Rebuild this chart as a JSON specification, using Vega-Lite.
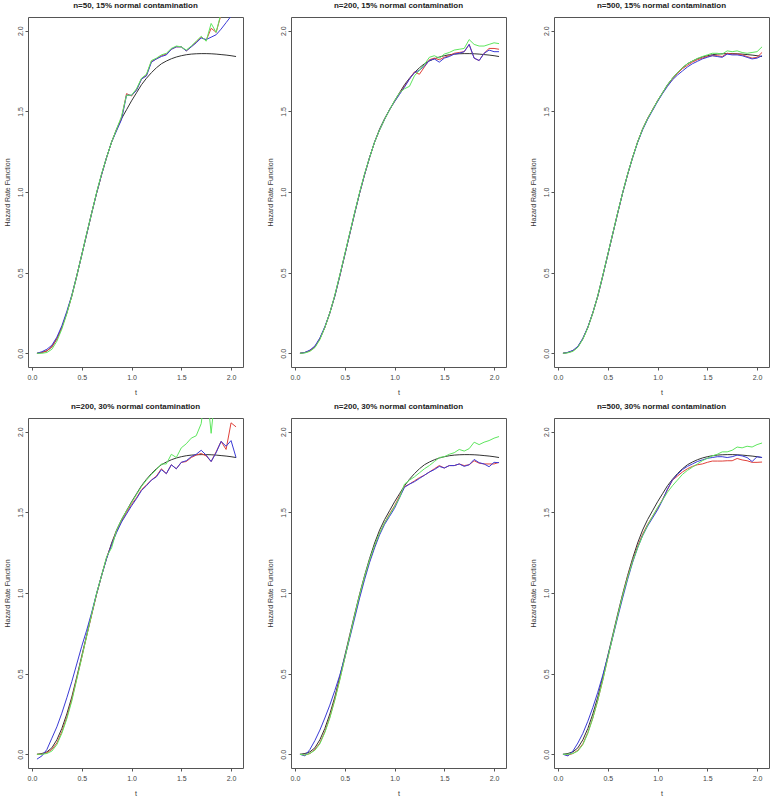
{
"$schema": "https://vega.github.io/schema/vega-lite/v6.json",
"padding": {"left": 2, "top": 1, "right": 0, "bottom": 0},
"background": "white",
"columns": 3,
"spacing": {"row": 51, "column": 48},
"bounds": "flush",
"data": {"values": [
{"p":1,"t":0.05,"k":0,"r":0,"b":0,"g":0},
{"p":1,"t":0.10,"k":0.005,"r":0.005,"b":0.01,"g":0},
{"p":1,"t":0.15,"k":0.015,"r":0.015,"b":0.025,"g":0.005},
{"p":1,"t":0.20,"k":0.04,"r":0.04,"b":0.05,"g":0.025},
{"p":1,"t":0.25,"k":0.09,"r":0.09,"b":0.1,"g":0.075},
{"p":1,"t":0.30,"k":0.16,"r":0.16,"b":0.17,"g":0.15},
{"p":1,"t":0.35,"k":0.25,"r":0.25,"b":0.26,"g":0.245},
{"p":1,"t":0.40,"k":0.355,"r":0.355,"b":0.36,"g":0.355},
{"p":1,"t":0.45,"k":0.48,"r":0.48,"b":0.48,"g":0.48},
{"p":1,"t":0.50,"k":0.61,"r":0.61,"b":0.61,"g":0.61},
{"p":1,"t":0.55,"k":0.74,"r":0.74,"b":0.74,"g":0.745},
{"p":1,"t":0.60,"k":0.87,"r":0.87,"b":0.87,"g":0.87},
{"p":1,"t":0.65,"k":0.995,"r":0.995,"b":0.995,"g":1.0},
{"p":1,"t":0.70,"k":1.11,"r":1.11,"b":1.11,"g":1.115},
{"p":1,"t":0.75,"k":1.215,"r":1.215,"b":1.215,"g":1.215},
{"p":1,"t":0.80,"k":1.31,"r":1.31,"b":1.31,"g":1.31},
{"p":1,"t":0.85,"k":1.39,"r":1.385,"b":1.38,"g":1.39},
{"p":1,"t":0.90,"k":1.455,"r":1.46,"b":1.45,"g":1.47},
{"p":1,"t":0.95,"k":1.51,"r":1.61,"b":1.6,"g":1.6},
{"p":1,"t":1.00,"k":1.565,"r":1.595,"b":1.6,"g":1.6},
{"p":1,"t":1.05,"k":1.615,"r":1.635,"b":1.63,"g":1.64},
{"p":1,"t":1.10,"k":1.665,"r":1.7,"b":1.7,"g":1.705},
{"p":1,"t":1.15,"k":1.705,"r":1.725,"b":1.72,"g":1.73},
{"p":1,"t":1.20,"k":1.74,"r":1.81,"b":1.805,"g":1.815},
{"p":1,"t":1.25,"k":1.77,"r":1.825,"b":1.825,"g":1.83},
{"p":1,"t":1.30,"k":1.795,"r":1.845,"b":1.84,"g":1.85},
{"p":1,"t":1.35,"k":1.812,"r":1.855,"b":1.85,"g":1.86},
{"p":1,"t":1.40,"k":1.826,"r":1.885,"b":1.885,"g":1.89},
{"p":1,"t":1.45,"k":1.837,"r":1.9,"b":1.9,"g":1.905},
{"p":1,"t":1.50,"k":1.845,"r":1.9,"b":1.9,"g":1.9},
{"p":1,"t":1.55,"k":1.851,"r":1.875,"b":1.875,"g":1.88},
{"p":1,"t":1.60,"k":1.855,"r":1.9,"b":1.9,"g":1.905},
{"p":1,"t":1.65,"k":1.857,"r":1.93,"b":1.925,"g":1.935},
{"p":1,"t":1.70,"k":1.858,"r":1.96,"b":1.955,"g":1.965},
{"p":1,"t":1.75,"k":1.858,"r":1.94,"b":1.945,"g":1.935},
{"p":1,"t":1.80,"k":1.857,"r":2.015,"b":1.96,"g":2.045},
{"p":1,"t":1.85,"k":1.855,"r":1.99,"b":1.975,"g":1.99},
{"p":1,"t":1.90,"k":1.852,"r":2.1,"b":2.01,"g":2.11},
{"p":1,"t":1.95,"k":1.849,"r":2.22,"b":2.05,"g":2.25},
{"p":1,"t":2.00,"k":1.845,"r":2.32,"b":2.09,"g":2.36},
{"p":1,"t":2.05,"k":1.84,"r":2.42,"b":2.13,"g":2.46},
{"p":2,"t":0.05,"k":0,"r":0,"b":0,"g":0},
{"p":2,"t":0.10,"k":0.005,"r":0.005,"b":0.005,"g":0.002},
{"p":2,"t":0.15,"k":0.015,"r":0.015,"b":0.02,"g":0.012},
{"p":2,"t":0.20,"k":0.04,"r":0.04,"b":0.045,"g":0.035},
{"p":2,"t":0.25,"k":0.09,"r":0.09,"b":0.095,"g":0.085},
{"p":2,"t":0.30,"k":0.16,"r":0.16,"b":0.165,"g":0.16},
{"p":2,"t":0.35,"k":0.25,"r":0.25,"b":0.25,"g":0.25},
{"p":2,"t":0.40,"k":0.355,"r":0.355,"b":0.355,"g":0.36},
{"p":2,"t":0.45,"k":0.48,"r":0.48,"b":0.48,"g":0.485},
{"p":2,"t":0.50,"k":0.61,"r":0.61,"b":0.61,"g":0.615},
{"p":2,"t":0.55,"k":0.74,"r":0.74,"b":0.74,"g":0.745},
{"p":2,"t":0.60,"k":0.87,"r":0.87,"b":0.87,"g":0.875},
{"p":2,"t":0.65,"k":0.995,"r":0.995,"b":0.995,"g":1.0},
{"p":2,"t":0.70,"k":1.11,"r":1.11,"b":1.11,"g":1.115},
{"p":2,"t":0.75,"k":1.215,"r":1.215,"b":1.215,"g":1.215},
{"p":2,"t":0.80,"k":1.31,"r":1.31,"b":1.31,"g":1.31},
{"p":2,"t":0.85,"k":1.39,"r":1.385,"b":1.385,"g":1.385},
{"p":2,"t":0.90,"k":1.455,"r":1.45,"b":1.45,"g":1.45},
{"p":2,"t":0.95,"k":1.51,"r":1.51,"b":1.51,"g":1.51},
{"p":2,"t":1.00,"k":1.565,"r":1.56,"b":1.56,"g":1.565},
{"p":2,"t":1.05,"k":1.615,"r":1.61,"b":1.605,"g":1.615},
{"p":2,"t":1.10,"k":1.665,"r":1.655,"b":1.65,"g":1.64},
{"p":2,"t":1.15,"k":1.705,"r":1.7,"b":1.7,"g":1.655},
{"p":2,"t":1.20,"k":1.74,"r":1.745,"b":1.74,"g":1.72},
{"p":2,"t":1.25,"k":1.77,"r":1.73,"b":1.755,"g":1.755},
{"p":2,"t":1.30,"k":1.795,"r":1.775,"b":1.78,"g":1.79},
{"p":2,"t":1.35,"k":1.812,"r":1.82,"b":1.815,"g":1.835},
{"p":2,"t":1.40,"k":1.826,"r":1.83,"b":1.825,"g":1.845},
{"p":2,"t":1.45,"k":1.837,"r":1.82,"b":1.805,"g":1.83},
{"p":2,"t":1.50,"k":1.845,"r":1.835,"b":1.83,"g":1.855},
{"p":2,"t":1.55,"k":1.851,"r":1.845,"b":1.84,"g":1.865},
{"p":2,"t":1.60,"k":1.855,"r":1.86,"b":1.855,"g":1.88},
{"p":2,"t":1.65,"k":1.857,"r":1.865,"b":1.86,"g":1.885},
{"p":2,"t":1.70,"k":1.858,"r":1.87,"b":1.87,"g":1.89},
{"p":2,"t":1.75,"k":1.858,"r":1.915,"b":1.915,"g":1.945},
{"p":2,"t":1.80,"k":1.857,"r":1.83,"b":1.83,"g":1.915},
{"p":2,"t":1.85,"k":1.855,"r":1.815,"b":1.815,"g":1.905},
{"p":2,"t":1.90,"k":1.852,"r":1.86,"b":1.86,"g":1.905},
{"p":2,"t":1.95,"k":1.849,"r":1.89,"b":1.88,"g":1.915},
{"p":2,"t":2.00,"k":1.845,"r":1.89,"b":1.87,"g":1.925},
{"p":2,"t":2.05,"k":1.84,"r":1.885,"b":1.87,"g":1.92},
{"p":3,"t":0.05,"k":0,"r":0,"b":0,"g":0},
{"p":3,"t":0.10,"k":0.005,"r":0.005,"b":0.006,"g":0.003},
{"p":3,"t":0.15,"k":0.015,"r":0.015,"b":0.018,"g":0.012},
{"p":3,"t":0.20,"k":0.04,"r":0.04,"b":0.043,"g":0.037},
{"p":3,"t":0.25,"k":0.09,"r":0.09,"b":0.093,"g":0.087},
{"p":3,"t":0.30,"k":0.16,"r":0.16,"b":0.162,"g":0.158},
{"p":3,"t":0.35,"k":0.25,"r":0.25,"b":0.252,"g":0.25},
{"p":3,"t":0.40,"k":0.355,"r":0.355,"b":0.355,"g":0.356},
{"p":3,"t":0.45,"k":0.48,"r":0.48,"b":0.48,"g":0.482},
{"p":3,"t":0.50,"k":0.61,"r":0.61,"b":0.61,"g":0.612},
{"p":3,"t":0.55,"k":0.74,"r":0.74,"b":0.74,"g":0.742},
{"p":3,"t":0.60,"k":0.87,"r":0.87,"b":0.87,"g":0.872},
{"p":3,"t":0.65,"k":0.995,"r":0.995,"b":0.995,"g":0.997},
{"p":3,"t":0.70,"k":1.11,"r":1.11,"b":1.11,"g":1.112},
{"p":3,"t":0.75,"k":1.215,"r":1.215,"b":1.213,"g":1.215},
{"p":3,"t":0.80,"k":1.31,"r":1.31,"b":1.307,"g":1.31},
{"p":3,"t":0.85,"k":1.39,"r":1.39,"b":1.385,"g":1.39},
{"p":3,"t":0.90,"k":1.455,"r":1.455,"b":1.45,"g":1.455},
{"p":3,"t":0.95,"k":1.51,"r":1.51,"b":1.505,"g":1.51},
{"p":3,"t":1.00,"k":1.565,"r":1.565,"b":1.56,"g":1.565},
{"p":3,"t":1.05,"k":1.615,"r":1.613,"b":1.61,"g":1.615},
{"p":3,"t":1.10,"k":1.665,"r":1.66,"b":1.655,"g":1.665},
{"p":3,"t":1.15,"k":1.705,"r":1.7,"b":1.695,"g":1.705},
{"p":3,"t":1.20,"k":1.74,"r":1.735,"b":1.725,"g":1.74},
{"p":3,"t":1.25,"k":1.77,"r":1.765,"b":1.75,"g":1.77},
{"p":3,"t":1.30,"k":1.795,"r":1.785,"b":1.775,"g":1.795},
{"p":3,"t":1.35,"k":1.812,"r":1.805,"b":1.795,"g":1.812},
{"p":3,"t":1.40,"k":1.826,"r":1.82,"b":1.81,"g":1.828},
{"p":3,"t":1.45,"k":1.837,"r":1.83,"b":1.825,"g":1.84},
{"p":3,"t":1.50,"k":1.845,"r":1.84,"b":1.835,"g":1.85},
{"p":3,"t":1.55,"k":1.851,"r":1.845,"b":1.845,"g":1.86},
{"p":3,"t":1.60,"k":1.855,"r":1.845,"b":1.84,"g":1.86},
{"p":3,"t":1.65,"k":1.857,"r":1.84,"b":1.835,"g":1.855},
{"p":3,"t":1.70,"k":1.858,"r":1.86,"b":1.855,"g":1.875},
{"p":3,"t":1.75,"k":1.858,"r":1.855,"b":1.85,"g":1.87},
{"p":3,"t":1.80,"k":1.857,"r":1.855,"b":1.85,"g":1.875},
{"p":3,"t":1.85,"k":1.855,"r":1.85,"b":1.845,"g":1.865},
{"p":3,"t":1.90,"k":1.852,"r":1.84,"b":1.835,"g":1.86},
{"p":3,"t":1.95,"k":1.849,"r":1.83,"b":1.825,"g":1.865},
{"p":3,"t":2.00,"k":1.845,"r":1.835,"b":1.83,"g":1.87},
{"p":3,"t":2.05,"k":1.84,"r":1.865,"b":1.845,"g":1.9},
{"p":4,"t":0.05,"k":0,"r":0,"b":-0.03,"g":0},
{"p":4,"t":0.10,"k":0.005,"r":0,"b":-0.01,"g":0},
{"p":4,"t":0.15,"k":0.015,"r":0.01,"b":0.03,"g":0.005},
{"p":4,"t":0.20,"k":0.04,"r":0.03,"b":0.1,"g":0.02},
{"p":4,"t":0.25,"k":0.09,"r":0.07,"b":0.17,"g":0.06},
{"p":4,"t":0.30,"k":0.16,"r":0.14,"b":0.255,"g":0.13},
{"p":4,"t":0.35,"k":0.25,"r":0.23,"b":0.35,"g":0.22},
{"p":4,"t":0.40,"k":0.355,"r":0.34,"b":0.45,"g":0.33},
{"p":4,"t":0.45,"k":0.48,"r":0.47,"b":0.56,"g":0.465},
{"p":4,"t":0.50,"k":0.61,"r":0.6,"b":0.67,"g":0.6},
{"p":4,"t":0.55,"k":0.74,"r":0.735,"b":0.77,"g":0.735},
{"p":4,"t":0.60,"k":0.87,"r":0.865,"b":0.88,"g":0.87},
{"p":4,"t":0.65,"k":0.995,"r":0.995,"b":1.0,"g":1.0},
{"p":4,"t":0.70,"k":1.11,"r":1.11,"b":1.11,"g":1.11},
{"p":4,"t":0.75,"k":1.215,"r":1.22,"b":1.215,"g":1.225},
{"p":4,"t":0.80,"k":1.31,"r":1.3,"b":1.3,"g":1.28},
{"p":4,"t":0.85,"k":1.39,"r":1.385,"b":1.375,"g":1.39},
{"p":4,"t":0.90,"k":1.455,"r":1.445,"b":1.44,"g":1.455},
{"p":4,"t":0.95,"k":1.51,"r":1.5,"b":1.49,"g":1.51},
{"p":4,"t":1.00,"k":1.565,"r":1.55,"b":1.54,"g":1.56},
{"p":4,"t":1.05,"k":1.615,"r":1.59,"b":1.585,"g":1.61},
{"p":4,"t":1.10,"k":1.665,"r":1.64,"b":1.635,"g":1.66},
{"p":4,"t":1.15,"k":1.705,"r":1.67,"b":1.665,"g":1.7},
{"p":4,"t":1.20,"k":1.74,"r":1.7,"b":1.7,"g":1.735},
{"p":4,"t":1.25,"k":1.77,"r":1.725,"b":1.72,"g":1.765},
{"p":4,"t":1.30,"k":1.795,"r":1.77,"b":1.765,"g":1.8},
{"p":4,"t":1.35,"k":1.812,"r":1.74,"b":1.74,"g":1.8},
{"p":4,"t":1.40,"k":1.826,"r":1.795,"b":1.795,"g":1.86},
{"p":4,"t":1.45,"k":1.837,"r":1.77,"b":1.77,"g":1.84},
{"p":4,"t":1.50,"k":1.845,"r":1.81,"b":1.81,"g":1.9},
{"p":4,"t":1.55,"k":1.851,"r":1.815,"b":1.82,"g":1.925},
{"p":4,"t":1.60,"k":1.855,"r":1.84,"b":1.845,"g":1.96},
{"p":4,"t":1.65,"k":1.857,"r":1.855,"b":1.86,"g":1.975},
{"p":4,"t":1.70,"k":1.858,"r":1.865,"b":1.885,"g":2.05},
{"p":4,"t":1.75,"k":1.858,"r":1.85,"b":1.855,"g":2.3},
{"p":4,"t":1.80,"k":1.857,"r":1.815,"b":1.815,"g":1.99},
{"p":4,"t":1.85,"k":1.855,"r":1.875,"b":1.87,"g":2.3},
{"p":4,"t":1.90,"k":1.852,"r":1.94,"b":1.94,"g":2.5},
{"p":4,"t":1.95,"k":1.849,"r":1.89,"b":1.91,"g":2.6},
{"p":4,"t":2.00,"k":1.845,"r":2.055,"b":1.945,"g":2.7},
{"p":4,"t":2.05,"k":1.84,"r":2.03,"b":1.84,"g":2.8},
{"p":5,"t":0.05,"k":0,"r":0,"b":0,"g":0},
{"p":5,"t":0.10,"k":0.005,"r":-0.005,"b":-0.01,"g":-0.005},
{"p":5,"t":0.15,"k":0.015,"r":0.005,"b":0.03,"g":0.005},
{"p":5,"t":0.20,"k":0.04,"r":0.03,"b":0.085,"g":0.025},
{"p":5,"t":0.25,"k":0.09,"r":0.07,"b":0.15,"g":0.065},
{"p":5,"t":0.30,"k":0.16,"r":0.14,"b":0.225,"g":0.135},
{"p":5,"t":0.35,"k":0.25,"r":0.23,"b":0.305,"g":0.225},
{"p":5,"t":0.40,"k":0.355,"r":0.34,"b":0.395,"g":0.335},
{"p":5,"t":0.45,"k":0.48,"r":0.465,"b":0.49,"g":0.46},
{"p":5,"t":0.50,"k":0.61,"r":0.595,"b":0.6,"g":0.595},
{"p":5,"t":0.55,"k":0.74,"r":0.73,"b":0.72,"g":0.73},
{"p":5,"t":0.60,"k":0.87,"r":0.86,"b":0.845,"g":0.865},
{"p":5,"t":0.65,"k":0.995,"r":0.985,"b":0.97,"g":0.99},
{"p":5,"t":0.70,"k":1.11,"r":1.1,"b":1.085,"g":1.105},
{"p":5,"t":0.75,"k":1.215,"r":1.2,"b":1.19,"g":1.205},
{"p":5,"t":0.80,"k":1.31,"r":1.29,"b":1.28,"g":1.295},
{"p":5,"t":0.85,"k":1.39,"r":1.37,"b":1.36,"g":1.37},
{"p":5,"t":0.90,"k":1.455,"r":1.435,"b":1.425,"g":1.435},
{"p":5,"t":0.95,"k":1.51,"r":1.49,"b":1.475,"g":1.485},
{"p":5,"t":1.00,"k":1.565,"r":1.54,"b":1.525,"g":1.535},
{"p":5,"t":1.05,"k":1.615,"r":1.6,"b":1.59,"g":1.59},
{"p":5,"t":1.10,"k":1.665,"r":1.66,"b":1.655,"g":1.675},
{"p":5,"t":1.15,"k":1.705,"r":1.675,"b":1.675,"g":1.7},
{"p":5,"t":1.20,"k":1.74,"r":1.695,"b":1.69,"g":1.72},
{"p":5,"t":1.25,"k":1.77,"r":1.715,"b":1.71,"g":1.745},
{"p":5,"t":1.30,"k":1.795,"r":1.73,"b":1.73,"g":1.77},
{"p":5,"t":1.35,"k":1.812,"r":1.75,"b":1.75,"g":1.79},
{"p":5,"t":1.40,"k":1.826,"r":1.77,"b":1.765,"g":1.815},
{"p":5,"t":1.45,"k":1.837,"r":1.79,"b":1.785,"g":1.84},
{"p":5,"t":1.50,"k":1.845,"r":1.775,"b":1.775,"g":1.845},
{"p":5,"t":1.55,"k":1.851,"r":1.79,"b":1.79,"g":1.86},
{"p":5,"t":1.60,"k":1.855,"r":1.79,"b":1.79,"g":1.87},
{"p":5,"t":1.65,"k":1.857,"r":1.8,"b":1.8,"g":1.89},
{"p":5,"t":1.70,"k":1.858,"r":1.79,"b":1.785,"g":1.88},
{"p":5,"t":1.75,"k":1.858,"r":1.795,"b":1.795,"g":1.895},
{"p":5,"t":1.80,"k":1.857,"r":1.82,"b":1.828,"g":1.935},
{"p":5,"t":1.85,"k":1.855,"r":1.805,"b":1.808,"g":1.92},
{"p":5,"t":1.90,"k":1.852,"r":1.8,"b":1.8,"g":1.935},
{"p":5,"t":1.95,"k":1.849,"r":1.8,"b":1.783,"g":1.945},
{"p":5,"t":2.00,"k":1.845,"r":1.8,"b":1.81,"g":1.96},
{"p":5,"t":2.05,"k":1.84,"r":1.81,"b":1.808,"g":1.97},
{"p":6,"t":0.05,"k":0,"r":0,"b":0,"g":0},
{"p":6,"t":0.10,"k":0.005,"r":-0.005,"b":-0.01,"g":0},
{"p":6,"t":0.15,"k":0.015,"r":0.005,"b":0.02,"g":0.005},
{"p":6,"t":0.20,"k":0.04,"r":0.025,"b":0.07,"g":0.02},
{"p":6,"t":0.25,"k":0.09,"r":0.065,"b":0.13,"g":0.06},
{"p":6,"t":0.30,"k":0.16,"r":0.135,"b":0.205,"g":0.13},
{"p":6,"t":0.35,"k":0.25,"r":0.225,"b":0.29,"g":0.225},
{"p":6,"t":0.40,"k":0.355,"r":0.335,"b":0.385,"g":0.335},
{"p":6,"t":0.45,"k":0.48,"r":0.46,"b":0.49,"g":0.46},
{"p":6,"t":0.50,"k":0.61,"r":0.595,"b":0.605,"g":0.595},
{"p":6,"t":0.55,"k":0.74,"r":0.73,"b":0.725,"g":0.73},
{"p":6,"t":0.60,"k":0.87,"r":0.86,"b":0.85,"g":0.86},
{"p":6,"t":0.65,"k":0.995,"r":0.985,"b":0.97,"g":0.985},
{"p":6,"t":0.70,"k":1.11,"r":1.1,"b":1.085,"g":1.095},
{"p":6,"t":0.75,"k":1.215,"r":1.2,"b":1.19,"g":1.195},
{"p":6,"t":0.80,"k":1.31,"r":1.29,"b":1.28,"g":1.28},
{"p":6,"t":0.85,"k":1.39,"r":1.365,"b":1.355,"g":1.355},
{"p":6,"t":0.90,"k":1.455,"r":1.425,"b":1.415,"g":1.42},
{"p":6,"t":0.95,"k":1.51,"r":1.475,"b":1.465,"g":1.475},
{"p":6,"t":1.00,"k":1.565,"r":1.525,"b":1.515,"g":1.53},
{"p":6,"t":1.05,"k":1.615,"r":1.58,"b":1.575,"g":1.575},
{"p":6,"t":1.10,"k":1.665,"r":1.64,"b":1.645,"g":1.625},
{"p":6,"t":1.15,"k":1.705,"r":1.7,"b":1.7,"g":1.665},
{"p":6,"t":1.20,"k":1.74,"r":1.725,"b":1.735,"g":1.7},
{"p":6,"t":1.25,"k":1.77,"r":1.75,"b":1.765,"g":1.735},
{"p":6,"t":1.30,"k":1.795,"r":1.77,"b":1.785,"g":1.76},
{"p":6,"t":1.35,"k":1.812,"r":1.785,"b":1.8,"g":1.78},
{"p":6,"t":1.40,"k":1.826,"r":1.795,"b":1.815,"g":1.8},
{"p":6,"t":1.45,"k":1.837,"r":1.8,"b":1.825,"g":1.82},
{"p":6,"t":1.50,"k":1.845,"r":1.81,"b":1.835,"g":1.835},
{"p":6,"t":1.55,"k":1.851,"r":1.818,"b":1.84,"g":1.85},
{"p":6,"t":1.60,"k":1.855,"r":1.818,"b":1.845,"g":1.86},
{"p":6,"t":1.65,"k":1.857,"r":1.818,"b":1.845,"g":1.875},
{"p":6,"t":1.70,"k":1.858,"r":1.82,"b":1.84,"g":1.875},
{"p":6,"t":1.75,"k":1.858,"r":1.82,"b":1.845,"g":1.885},
{"p":6,"t":1.80,"k":1.857,"r":1.834,"b":1.855,"g":1.905},
{"p":6,"t":1.85,"k":1.855,"r":1.825,"b":1.85,"g":1.9},
{"p":6,"t":1.90,"k":1.852,"r":1.82,"b":1.84,"g":1.91},
{"p":6,"t":1.95,"k":1.849,"r":1.81,"b":1.815,"g":1.905},
{"p":6,"t":2.00,"k":1.845,"r":1.81,"b":1.845,"g":1.92},
{"p":6,"t":2.05,"k":1.84,"r":1.812,"b":1.84,"g":1.93}
]},
"concat": [
{"title":"n=50, 15% normal contamination","width":215,"height":350,
 "transform":[{"filter":"datum.p==1"},{"fold":["k","r","b","g"],"as":["s","v"]}],
 "mark":{"type":"line","clip":true,"strokeWidth":1},
 "encoding":{"x":{"field":"t","type":"quantitative","scale":{"domain":[-0.04,2.12],"nice":false},"axis":{"title":"t","values":[0,0.5,1,1.5,2],"format":".1f"}},
  "y":{"field":"v","type":"quantitative","scale":{"domain":[-0.085,2.085],"nice":false,"zero":false},"axis":{"title":"Hazard Rate Function","values":[0,0.5,1,1.5,2],"format":".1f"}},
  "color":{"field":"s","type":"nominal","scale":{"domain":["k","r","b","g"],"range":["#333333","#e0413a","#3a3ad6","#5ee65e"]},"legend":null}}},
{"title":"n=200, 15% normal contamination","width":215,"height":350,
 "transform":[{"filter":"datum.p==2"},{"fold":["k","r","b","g"],"as":["s","v"]}],
 "mark":{"type":"line","clip":true,"strokeWidth":1},
 "encoding":{"x":{"field":"t","type":"quantitative","scale":{"domain":[-0.04,2.12],"nice":false},"axis":{"title":"t","values":[0,0.5,1,1.5,2],"format":".1f"}},
  "y":{"field":"v","type":"quantitative","scale":{"domain":[-0.085,2.085],"nice":false,"zero":false},"axis":{"title":"Hazard Rate Function","values":[0,0.5,1,1.5,2],"format":".1f"}},
  "color":{"field":"s","type":"nominal","scale":{"domain":["k","r","b","g"],"range":["#333333","#e0413a","#3a3ad6","#5ee65e"]},"legend":null}}},
{"title":"n=500, 15% normal contamination","width":215,"height":350,
 "transform":[{"filter":"datum.p==3"},{"fold":["k","r","b","g"],"as":["s","v"]}],
 "mark":{"type":"line","clip":true,"strokeWidth":1},
 "encoding":{"x":{"field":"t","type":"quantitative","scale":{"domain":[-0.04,2.12],"nice":false},"axis":{"title":"t","values":[0,0.5,1,1.5,2],"format":".1f"}},
  "y":{"field":"v","type":"quantitative","scale":{"domain":[-0.085,2.085],"nice":false,"zero":false},"axis":{"title":"Hazard Rate Function","values":[0,0.5,1,1.5,2],"format":".1f"}},
  "color":{"field":"s","type":"nominal","scale":{"domain":["k","r","b","g"],"range":["#333333","#e0413a","#3a3ad6","#5ee65e"]},"legend":null}}},
{"title":"n=200, 30% normal contamination","width":215,"height":350,
 "transform":[{"filter":"datum.p==4"},{"fold":["k","r","b","g"],"as":["s","v"]}],
 "mark":{"type":"line","clip":true,"strokeWidth":1},
 "encoding":{"x":{"field":"t","type":"quantitative","scale":{"domain":[-0.04,2.12],"nice":false},"axis":{"title":"t","values":[0,0.5,1,1.5,2],"format":".1f"}},
  "y":{"field":"v","type":"quantitative","scale":{"domain":[-0.085,2.085],"nice":false,"zero":false},"axis":{"title":"Hazard Rate Function","values":[0,0.5,1,1.5,2],"format":".1f"}},
  "color":{"field":"s","type":"nominal","scale":{"domain":["k","r","b","g"],"range":["#333333","#e0413a","#3a3ad6","#5ee65e"]},"legend":null}}},
{"title":"n=200, 30% normal contamination","width":215,"height":350,
 "transform":[{"filter":"datum.p==5"},{"fold":["k","r","b","g"],"as":["s","v"]}],
 "mark":{"type":"line","clip":true,"strokeWidth":1},
 "encoding":{"x":{"field":"t","type":"quantitative","scale":{"domain":[-0.04,2.12],"nice":false},"axis":{"title":"t","values":[0,0.5,1,1.5,2],"format":".1f"}},
  "y":{"field":"v","type":"quantitative","scale":{"domain":[-0.085,2.085],"nice":false,"zero":false},"axis":{"title":"Hazard Rate Function","values":[0,0.5,1,1.5,2],"format":".1f"}},
  "color":{"field":"s","type":"nominal","scale":{"domain":["k","r","b","g"],"range":["#333333","#e0413a","#3a3ad6","#5ee65e"]},"legend":null}}},
{"title":"n=500, 30% normal contamination","width":215,"height":350,
 "transform":[{"filter":"datum.p==6"},{"fold":["k","r","b","g"],"as":["s","v"]}],
 "mark":{"type":"line","clip":true,"strokeWidth":1},
 "encoding":{"x":{"field":"t","type":"quantitative","scale":{"domain":[-0.04,2.12],"nice":false},"axis":{"title":"t","values":[0,0.5,1,1.5,2],"format":".1f"}},
  "y":{"field":"v","type":"quantitative","scale":{"domain":[-0.085,2.085],"nice":false,"zero":false},"axis":{"title":"Hazard Rate Function","values":[0,0.5,1,1.5,2],"format":".1f"}},
  "color":{"field":"s","type":"nominal","scale":{"domain":["k","r","b","g"],"range":["#333333","#e0413a","#3a3ad6","#5ee65e"]},"legend":null}}}
],
"config": {
 "font": "Liberation Sans",
 "view": {"stroke": "#555555", "strokeWidth": 1},
 "axis": {"grid": false, "domain": false, "labelFontSize": 7, "titleFontSize": 7, "labelColor": "#444444", "titleColor": "#333333", "titleFontWeight": "normal", "tickColor": "#555555", "tickSize": 3, "labelFont": "Liberation Sans", "titleFont": "Liberation Sans", "labelFlush": false, "labelOverlap": false},
 "axisX": {"labelPadding": 3, "titlePadding": 8},
 "axisY": {"labelAngle": -90, "labelAlign": "center", "labelBaseline": "bottom", "labelPadding": 2, "titlePadding": 6},
 "title": {"fontSize": 8, "fontWeight": "bold", "font": "Liberation Sans", "anchor": "middle", "offset": 7, "color": "#222222"}
}
}
